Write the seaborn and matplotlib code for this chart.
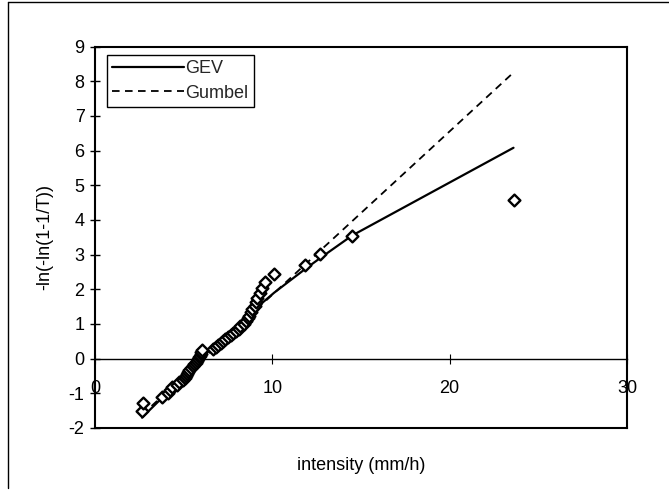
import matplotlib
matplotlib.use("Agg")
import matplotlib.pyplot as plt
from matplotlib.lines import Line2D
import seaborn as sns
import pandas as pd

# observed intensities (mm/h) and reduced variate -ln(-ln(1-1/T))
obs_x = [2.65, 2.72, 3.80, 4.13, 4.25, 4.33, 4.60, 4.75, 4.95, 5.08,
         5.15, 5.20, 5.25, 5.30, 5.40, 5.50, 5.60, 5.70, 5.75, 5.80,
         5.85, 5.90, 5.95, 6.00, 6.05, 6.65, 6.85, 6.95, 7.10, 7.20,
         7.35, 7.50, 7.65, 7.80, 7.95, 8.10, 8.20, 8.40, 8.50, 8.60,
         8.70, 8.80, 8.85, 9.00, 9.10, 9.15, 9.30, 9.40, 9.60, 10.10,
         11.84, 12.70, 14.50, 23.60]
obs_y = [-1.520, -1.266, -1.116, -1.001, -0.906, -0.822, -0.747, -0.677, -0.612, -0.550,
         -0.491, -0.434, -0.379, -0.325, -0.272, -0.220, -0.169, -0.118, -0.068, -0.018,
         0.033, 0.083, 0.134, 0.184, 0.236, 0.287, 0.340, 0.393, 0.448, 0.503,
         0.559, 0.617, 0.677, 0.738, 0.802, 0.868, 0.936, 1.007, 1.082, 1.160,
         1.243, 1.331, 1.426, 1.527, 1.638, 1.759, 1.894, 2.046, 2.222, 2.430,
         2.688, 3.027, 3.532, 4.566]

gev_x = [2.65, 4.0, 5.0, 6.0, 7.0, 8.0, 9.0, 10.1, 11.84, 12.7, 14.5, 23.6]
gev_y = [-1.70, -1.02, -0.48, 0.02, 0.50, 0.96, 1.42, 1.90, 2.58, 2.90, 3.55, 6.08]

gumbel_x = [2.65, 23.6]
gumbel_y = [-1.62, 8.25]

x_ticks = [0, 10, 20, 30]
y_ticks = [-2, -1, 0, 1, 2, 3, 4, 5, 6, 7, 8, 9]

sns.set_theme(style="white")
plt.rcParams['font.family'] = ['Liberation Sans', 'DejaVu Sans']
plt.rcParams['axes.unicode_minus'] = False

FS = 13

fig = plt.figure(figsize=(6.69, 4.97), dpi=100)
ax = fig.add_axes([95/669, 1-428/497, (627-95)/669, (428-46.5)/497])

obs = pd.DataFrame({"x": obs_x, "y": obs_y})
gev = pd.DataFrame({"x": gev_x, "y": gev_y})
gum = pd.DataFrame({"x": gumbel_x, "y": gumbel_y})

sns.lineplot(data=gev, x="x", y="y", ax=ax, color="black", linewidth=1.6,
             estimator=None, label="GEV")
sns.lineplot(data=gum, x="x", y="y", ax=ax, color="black", linewidth=1.3,
             estimator=None, label="Gumbel", dashes=False)
ax.lines[-1].set_dashes([4.2, 3.0])
sns.scatterplot(data=obs, x="x", y="y", ax=ax, marker="D", s=36,
                facecolor="white", edgecolor="black", linewidth=1.7, zorder=5)

ax.set_xlim(0, 30)
ax.set_ylim(-2, 9)
ax.set_yticks(y_ticks)
ax.set_xticks([])
ax.tick_params(axis="y", direction="inout", length=7, width=1, left=True,
               labelsize=FS, pad=4, colors="black")
for s in ax.spines.values():
    s.set_visible(True)
    s.set_color("black")
    s.set_linewidth(1.5)

sec = ax.secondary_xaxis(2/11)
sec.set_xticks(x_ticks)
sec.tick_params(direction="inout", length=7, width=0.8, labelsize=FS,
                pad=12, colors="black")
sec.spines["bottom"].set_linewidth(1.0)
sec.spines["bottom"].set_color("black")

ax.set_xlabel("intensity (mm/h)", fontsize=FS, labelpad=21, color="black")
ax.set_ylabel("-ln(-ln(1-1/T))", fontsize=FS, labelpad=11, color="black")

leg = ax.legend(loc="upper left", bbox_to_anchor=(0.022, 0.978), borderaxespad=0,
                fontsize=FS, handlelength=4.0, handletextpad=0.05,
                borderpad=0.3, labelspacing=0.4, fancybox=False, framealpha=1,
                edgecolor="black")
leg.get_frame().set_linewidth(1.0)

# outer chart border
fig.add_artist(Line2D([8/669, 8/669], [1-2/497, 1-488/497], transform=fig.transFigure,
                      color="black", linewidth=1.0))
fig.add_artist(Line2D([8/669, 1.0], [1-2/497, 1-2/497], transform=fig.transFigure,
                      color="black", linewidth=1.0))

fig.savefig("out.png", dpi=100)
